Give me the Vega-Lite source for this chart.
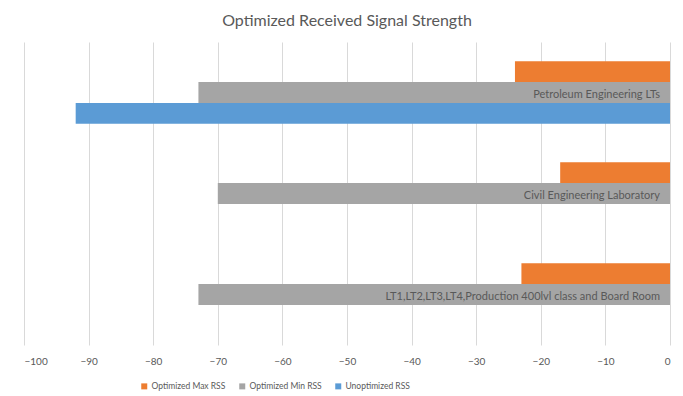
{
  "$schema": "https://vega.github.io/schema/vega-lite/v6.json",
  "autosize": {"type": "none"},
  "width": 646,
  "height": 303,
  "padding": {"left": 24, "top": 42, "right": 13, "bottom": 51},
  "background": "white",
  "config": {
    "font": "Lato",
    "view": {"stroke": null}
  },
  "title": {
    "text": "Optimized Received Signal Strength",
    "fontSize": 16,
    "font": "Lato",
    "fontWeight": "normal",
    "color": "#595959",
    "anchor": "middle",
    "offset": 13
  },
  "datasets": {
    "bars": [
      {"location": "Petroleum Engineering LTs", "series": "Optimized Max RSS", "rss": -24},
      {"location": "Petroleum Engineering LTs", "series": "Optimized Min RSS", "rss": -73},
      {"location": "Petroleum Engineering LTs", "series": "Unoptimized RSS", "rss": -92},
      {"location": "Civil Engineering Laboratory", "series": "Optimized Max RSS", "rss": -17},
      {"location": "Civil Engineering Laboratory", "series": "Optimized Min RSS", "rss": -70},
      {"location": "LT1,LT2,LT3,LT4,Production 400lvl class and Board Room", "series": "Optimized Max RSS", "rss": -23},
      {"location": "LT1,LT2,LT3,LT4,Production 400lvl class and Board Room", "series": "Optimized Min RSS", "rss": -73}
    ],
    "labels": [
      {"location": "Petroleum Engineering LTs"},
      {"location": "Civil Engineering Laboratory"},
      {"location": "LT1,LT2,LT3,LT4,Production 400lvl class and Board Room"}
    ]
  },
  "layer": [
    {
      "data": {"name": "bars"},
      "mark": {"type": "bar", "orient": "horizontal"},
      "encoding": {
        "y": {
          "field": "location",
          "type": "nominal",
          "sort": null,
          "scale": {
            "domain": ["Petroleum Engineering LTs", "Civil Engineering Laboratory", "LT1,LT2,LT3,LT4,Production 400lvl class and Board Room"],
            "paddingInner": 0.38,
            "paddingOuter": 0.19
          },
          "axis": null
        },
        "yOffset": {
          "field": "series",
          "type": "nominal",
          "scale": {
            "domain": ["Optimized Max RSS", "Optimized Min RSS", "Unoptimized RSS"],
            "paddingInner": 0,
            "paddingOuter": 0
          }
        },
        "x": {
          "field": "rss",
          "type": "quantitative",
          "scale": {"domain": [-100, 0], "nice": false},
          "axis": {
            "title": null,
            "values": [-100, -90, -80, -70, -60, -50, -40, -30, -20, -10, 0],
            "grid": true,
            "gridColor": "#d9d9d9",
            "gridWidth": 1,
            "domain": false,
            "ticks": false,
            "labelColor": "#595959",
            "labelFontSize": 10,
            "labelFont": "Lato",
            "labelPadding": 11
          }
        },
        "color": {
          "field": "series",
          "type": "nominal",
          "scale": {
            "domain": ["Optimized Max RSS", "Optimized Min RSS", "Unoptimized RSS"],
            "range": ["#ED7D31", "#A5A5A5", "#5B9BD5"]
          },
          "legend": {
            "title": null,
            "orient": "none",
            "direction": "horizontal",
            "legendX": 116,
            "legendY": 340,
            "symbolType": "square",
            "symbolSize": 36,
            "symbolStrokeWidth": 0,
            "labelColor": "#595959",
            "labelFontSize": 8.5,
            "labelFont": "Lato",
            "columnPadding": 12,
            "labelOffset": 3
          }
        }
      }
    },
    {
      "data": {"name": "labels"},
      "mark": {"type": "text", "align": "right", "baseline": "middle", "dx": -10, "dy": 2, "fontSize": 11, "color": "#595959", "font": "Lato"},
      "encoding": {
        "y": {"field": "location", "type": "nominal", "sort": null},
        "x": {"datum": 0, "type": "quantitative"},
        "text": {"field": "location", "type": "nominal"}
      }
    }
  ]
}
